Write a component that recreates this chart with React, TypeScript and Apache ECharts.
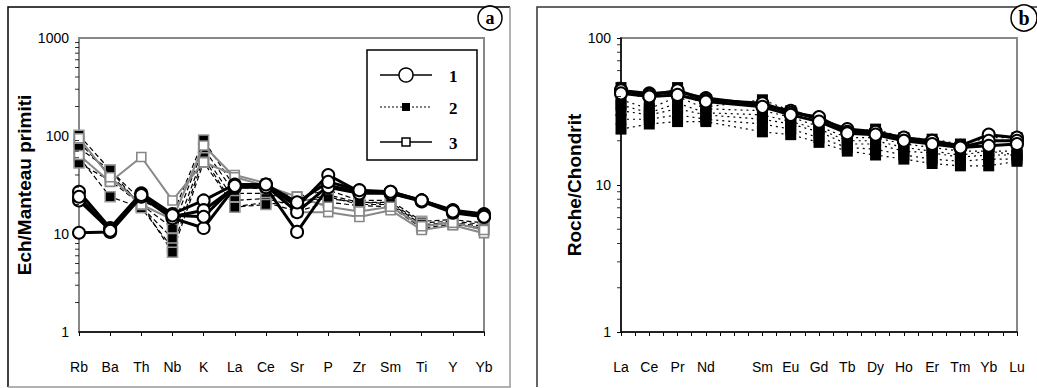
import React, { useEffect, useRef } from "react";
import * as echarts from "echarts";

// ---- Panel (a) : spider diagram normalised to primitive mantle ----
const elemA = ["Rb", "Ba", "Th", "Nb", "K", "La", "Ce", "Sr", "P", "Zr", "Sm", "Ti", "Y", "Yb"];
// group 1 (open circles, solid)
const a1s1 = [27, 11.5, 26, 16, 22, 32, 32, 19, 40, 27, 27, 22, 17.5, 16];
const a1s2 = [22, 11, 25, 15, 17.5, 30, 31, 16.7, 31, 27, 26, 22, 17, 15.5];
const a1s3 = [10.3, 10.5, 24, 14.5, 11.5, 30, 30, 10.5, 30, 26, 26, 21.5, 16.5, 15];
const a1s4 = [24, 10.8, 25, 15.5, 15, 31, 32, 21, 34, 28, 27, 22, 17, 15];
// group 2 (filled squares, dashed)
const a2s1 = [102, 45, 22, 15.6, 91, 30, 29, 24, 28, 22, 22, 13.5, 14, 13];
const a2s2 = [87, 40, 20, 11.5, 75, 26, 26, 21, 25, 21, 21, 13, 13.5, 12.5];
const a2s3 = [75, 45, 19, 9, 65, 22, 23, 19, 24, 20, 20, 12, 13, 12];
const a2s4 = [61, 24, 18.5, 7.2, 60, 19, 21, 17, 21, 19.5, 19, 11.5, 12.5, 11.5];
const a2s5 = [53, 35, 20, 6.5, 54, 18.8, 20, 22, 23, 21, 20.5, 12.5, 13, 11];
// group 3 (open grey squares, grey line)
const a3s1 = [64, 34, 61, 22, 54, 40, 33, 16.7, 16.7, 14.9, 17.5, 11, 12.3, 10.2];
const a3s2 = [95, 38, 20, 14, 80, 38, 31, 24, 19, 17, 19, 12, 13, 11];

// ---- Panel (b) : REE normalised to chondrite ----
const elemB = ["La", "Ce", "Pr", "Nd", "", "Sm", "Eu", "Gd", "Tb", "Dy", "Ho", "Er", "Tm", "Yb", "Lu"];
const b1s1 = [44, 42, 43, 39, null, 35, 32, 28, 24, 23, 21, 20, 18.5, 22, 21];
const b1s2 = [44, 41, 44, 38, null, 36, 31, 29, 23, 23, 20, 20, 18, 20, 20];
const b1s3 = [42, 40, 41, 37, null, 34, 30, 27, 22.5, 22, 20, 19, 18, 18.5, 19];
const b2s0 = [46, 37, 46, 34, null, 38, 32, 28, 23, 24, 21, 20.5, 19, 21, 21];
const b2s1 = [38, 33, 40, 33, null, 32, 29, 25, 21, 21, 19, 18, 17, 17, 17];
const b2s2 = [32, 30, 33, 30, null, 28, 26, 23, 19, 19, 17, 16.5, 15.5, 16, 16];
const b2s3 = [28, 28, 30, 28, null, 26, 24, 21, 18, 17.5, 16, 15, 14.5, 15, 15];
const b2s4 = [24, 26, 27, 27, null, 23, 22, 19.5, 17, 16, 15, 14, 13.5, 13.5, 14.5];
const b2s5 = [35, 31, 36, 31, null, 30, 27, 24, 20, 20, 18, 17, 16, 17, 16];

const minorA = [2, 3, 4, 5, 6, 7, 8, 9, 20, 30, 40, 50, 60, 70, 80, 90, 200, 300, 400, 500, 600, 700, 800, 900];
const minorB = [2, 3, 4, 5, 6, 7, 8, 9, 20, 30, 40, 50, 60, 70, 80, 90];

const FONT = "Liberation Sans";

function toPairs(arr: (number | null)[]) {
  const out: [number, number][] = [];
  arr.forEach((v, i) => {
    if (v !== null) out.push([i, v]);
  });
  return out;
}

export default function App() {
  const ref = useRef<HTMLDivElement>(null);
  useEffect(() => {
    document.body.style.margin = "0";
    const chart = echarts.init(ref.current!, null, { renderer: "svg" });

    const g1A = (d: number[]) => ({
      type: "line", xAxisIndex: 0, yAxisIndex: 0, data: d,
      symbol: "emptyCircle", symbolSize: 12,
      itemStyle: { color: "#000", borderColor: "#000", borderWidth: 1.5 },
      lineStyle: { color: "#000", width: 3 }, z: 4,
    });
    const g2A = (d: number[]) => ({
      type: "line", xAxisIndex: 0, yAxisIndex: 0, data: d,
      symbol: "rect", symbolSize: 10,
      itemStyle: { color: "#000", borderColor: "#999", borderWidth: 1.5 },
      lineStyle: { color: "#000", width: 1.2, type: [5, 3] }, z: 2,
    });
    const g3A = (d: number[]) => ({
      type: "line", xAxisIndex: 0, yAxisIndex: 0, data: d,
      symbol: "rect", symbolSize: 9,
      itemStyle: { color: "#fff", borderColor: "#888", borderWidth: 1.6 },
      lineStyle: { color: "#888", width: 2 }, z: 3,
    });
    const g1B = (d: (number | null)[]) => ({
      type: "line", xAxisIndex: 1, yAxisIndex: 1, data: toPairs(d),
      symbol: "emptyCircle", symbolSize: 12,
      itemStyle: { color: "#000", borderColor: "#000", borderWidth: 1.5 },
      lineStyle: { color: "#000", width: 3 }, z: 4,
    });
    const g2B = (d: (number | null)[]) => ({
      type: "line", xAxisIndex: 1, yAxisIndex: 1, data: toPairs(d),
      symbol: "rect", symbolSize: 11,
      itemStyle: { color: "#000" },
      lineStyle: { color: "#000", width: 1.2, type: [2, 4] }, z: 2,
    });
    const minorSeries = (xi: number, vals: number[]) => ({
      type: "scatter", xAxisIndex: xi, yAxisIndex: xi, silent: true,
      data: vals.map((v) => [0, v]),
      symbol: "rect", symbolSize: [4, 1], symbolOffset: [-2, 0],
      itemStyle: { color: "#000" }, z: 5,
    });

    const axisCommon = {
      axisLine: { lineStyle: { color: "#000", width: 1.5 } },
      axisTick: { lineStyle: { color: "#000", width: 1 }, length: 4 },
      splitLine: { show: false },
    };
    const yLabel = { color: "#000", fontFamily: FONT, fontSize: 14, margin: 10, formatter: (v: number) => String(v) };

    chart.setOption({
      animation: false,
      grid: [
        { left: 79, top: 38, width: 405, height: 294, show: true, borderColor: "#888", borderWidth: 2 },
        { left: 621, top: 38, width: 396, height: 294, show: true, borderColor: "#888", borderWidth: 2 },
      ],
      xAxis: [
        {
          type: "category", gridIndex: 0, data: elemA, boundaryGap: false, ...axisCommon,
          axisTick: { ...axisCommon.axisTick, alignWithLabel: true },
          axisLabel: { color: "#000", fontFamily: FONT, fontSize: 14, margin: 28 },
        },
        {
          type: "value", gridIndex: 1, min: 0, max: 14, interval: 0.5, ...axisCommon,
          axisLabel: {
            color: "#000", fontFamily: FONT, fontSize: 14, margin: 28,
            formatter: (v: number) => (Number.isInteger(v) ? elemB[v] : ""),
          },
        },
      ],
      yAxis: [
        {
          type: "log", gridIndex: 0, logBase: 10, min: 1, max: 1000, ...axisCommon,
          axisLabel: yLabel,
          name: "Ech/Manteau primiti", nameLocation: "middle", nameGap: 31,
          nameTextStyle: { color: "#000", fontFamily: FONT, fontSize: 19, fontWeight: "bold" },
        },
        {
          type: "log", gridIndex: 1, logBase: 10, min: 1, max: 100, ...axisCommon,
          axisLabel: yLabel,
          name: "Roche/Chondrit", nameLocation: "middle", nameGap: 29,
          nameTextStyle: { color: "#000", fontFamily: FONT, fontSize: 19, fontWeight: "bold" },
        },
      ],
      series: [
        ...[a2s1, a2s2, a2s3, a2s4, a2s5].map(g2A),
        ...[a3s1, a3s2].map(g3A),
        ...[a1s1, a1s2, a1s3, a1s4].map(g1A),
        ...[b2s0, b2s1, b2s2, b2s3, b2s4, b2s5].map(g2B),
        ...[b1s1, b1s2, b1s3].map(g1B),
        minorSeries(0, minorA),
        minorSeries(1, minorB),
      ],
      graphic: [
        // panel frames
        { type: "polyline", shape: { points: [[8, 387], [8, 7], [510, 7]] }, style: { stroke: "#000", lineWidth: 1.5, fill: null } },
        { type: "polyline", shape: { points: [[510, 7], [510, 387], [8, 387]] }, style: { stroke: "#999", lineWidth: 1.5, fill: null } },
        { type: "polyline", shape: { points: [[537, 387], [537, 7], [1037, 7]] }, style: { stroke: "#333", lineWidth: 1.5, fill: null } },
        // panel letters
        { type: "circle", shape: { cx: 490, cy: 18, r: 12 }, style: { fill: "#fff", stroke: "#000", lineWidth: 1.5 } },
        { type: "text", x: 490, y: 18, style: { text: "a", fill: "#000", font: "bold 18px 'Liberation Serif', serif", align: "center", verticalAlign: "middle" } },
        { type: "circle", shape: { cx: 1024, cy: 18, r: 13 }, style: { fill: "#fff", stroke: "#000", lineWidth: 1.5 } },
        { type: "text", x: 1024, y: 18, style: { text: "b", fill: "#000", font: "bold 20px 'Liberation Serif', serif", align: "center", verticalAlign: "middle" } },
        // legend of panel (a)
        {
          type: "group", z: 20,
          children: [
            { type: "rect", shape: { x: 367, y: 50, width: 110, height: 110 }, style: { fill: "#fff", stroke: "#000", lineWidth: 1.5 } },
            { type: "line", shape: { x1: 380, y1: 75, x2: 432, y2: 75 }, style: { stroke: "#000", lineWidth: 1.5 } },
            { type: "circle", shape: { cx: 406, cy: 75, r: 7 }, style: { fill: "#fff", stroke: "#000", lineWidth: 1.5 } },
            { type: "text", x: 449, y: 76, style: { text: "1", fill: "#000", font: "bold 17px 'Liberation Serif', serif", verticalAlign: "middle" } },
            { type: "line", shape: { x1: 380, y1: 107, x2: 432, y2: 107 }, style: { stroke: "#000", lineWidth: 1.2, lineDash: [2, 2] } },
            { type: "rect", shape: { x: 402, y: 103, width: 8, height: 8 }, style: { fill: "#000" } },
            { type: "text", x: 449, y: 108, style: { text: "2", fill: "#000", font: "bold 17px 'Liberation Serif', serif", verticalAlign: "middle" } },
            { type: "line", shape: { x1: 380, y1: 142, x2: 432, y2: 142 }, style: { stroke: "#000", lineWidth: 1.5 } },
            { type: "rect", shape: { x: 402, y: 138, width: 8, height: 8 }, style: { fill: "#fff", stroke: "#000", lineWidth: 1.5 } },
            { type: "text", x: 449, y: 143, style: { text: "3", fill: "#000", font: "bold 17px 'Liberation Serif', serif", verticalAlign: "middle" } },
          ],
        },
      ],
    });
    return () => chart.dispose();
  }, []);
  return <div ref={ref} style={{ width: 1037, height: 388 }} />;
}
